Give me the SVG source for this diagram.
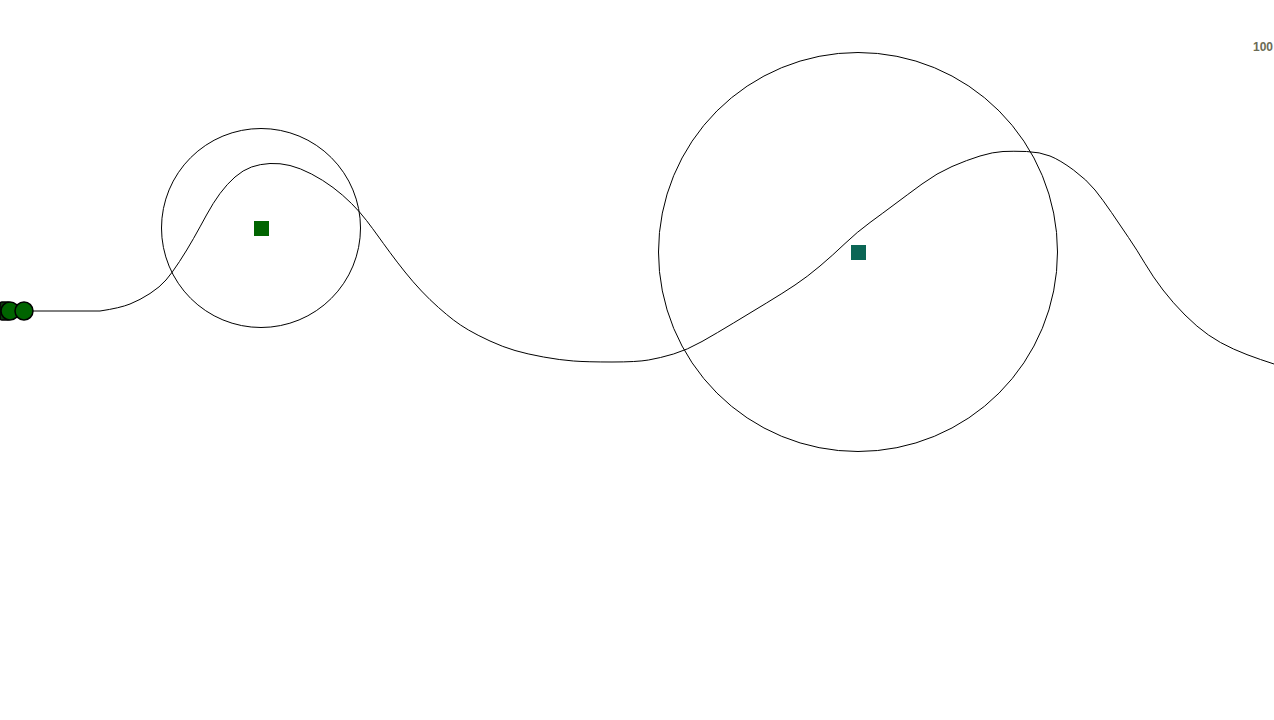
<svg xmlns="http://www.w3.org/2000/svg" width="1274" height="720" viewBox="0 0 1274 720">
<style>
.ring{fill:none;stroke:#000;stroke-width:1}
.path{fill:none;stroke:#000;stroke-width:1}
.dot{fill:#006400;stroke:#000;stroke-width:1.5}
.lbl{font-family:"Liberation Sans",Arial,sans-serif;font-size:12px;font-weight:bold;fill:#6b6b55}
</style>
<rect width="1274" height="720" fill="#fff"/>
<g id="connectors">
<path class="path" d="M33,311 L100,311 Q120,308 130,304 Q140,300 150,293.5 Q160,287 166,280 Q172,273 179.5,261.5 Q187,250 193.5,238.5 Q200,227 206.5,215 Q213,203 220,193.5 Q227,184 235,177 Q243,170 251.5,167 Q260,164 270,163.5 Q280,163 290,165.5 Q300,168 311.5,174 Q323,180 333,187.5 Q343,195 351.5,203.5 Q360,212 366.5,220.5 Q373,229 378,236 Q383,243 390,252.5 Q397,262 405,272 Q413,282 421.5,291 Q430,300 438.5,307.5 Q447,315 453.5,320 Q460,325 468.5,330 Q477,335 490,341 Q503,347 515,350.5 Q527,354 543.5,357 Q560,360 573.5,361 Q587,362 612,362 Q637,362 648.5,360 Q660,358 673.5,354 Q687,350 702,341.5 Q717,333 733.5,323 Q750,313 766.5,303 Q783,293 795,285 Q807,277 820,266 Q833,255 845,243.5 Q857,232 870,222.5 Q883,213 895,204 Q907,195 922,184 Q937,173 952,166.5 Q967,160 980,156 Q993,152 1003,151.5 Q1013,151 1026.5,151.5 Q1040,152 1050,156 Q1060,160 1073.5,170 Q1087,180 1095,190 Q1103,200 1111.5,212.5 Q1120,225 1128.5,237.5 Q1137,250 1145,263.5 Q1153,277 1163,290 Q1173,303 1185,315 Q1197,327 1208.5,335 Q1220,343 1233.5,349 Q1247,355 1260.5,359.5 L1274,364"/>
</g>
<g id="zone1">
<circle class="ring" cx="261" cy="228" r="99.5"/>
<rect x="254" y="221" width="15" height="15" fill="#006400"/>
</g>
<g id="zone2">
<circle class="ring" cx="858" cy="252" r="199.5"/>
<rect x="851" y="245" width="15" height="15" fill="#0b6655"/>
</g>
<g id="start">
<rect x="0" y="302" width="10" height="18" rx="2" fill="#0c3a0c" stroke="#000" stroke-width="1.5"/>
<circle class="dot" cx="10" cy="311" r="9"/>
<circle class="dot" cx="24" cy="311" r="9"/>
</g>
<g id="counter">
<text class="lbl" x="1273" y="51" text-anchor="end">100</text>
</g>
</svg>
